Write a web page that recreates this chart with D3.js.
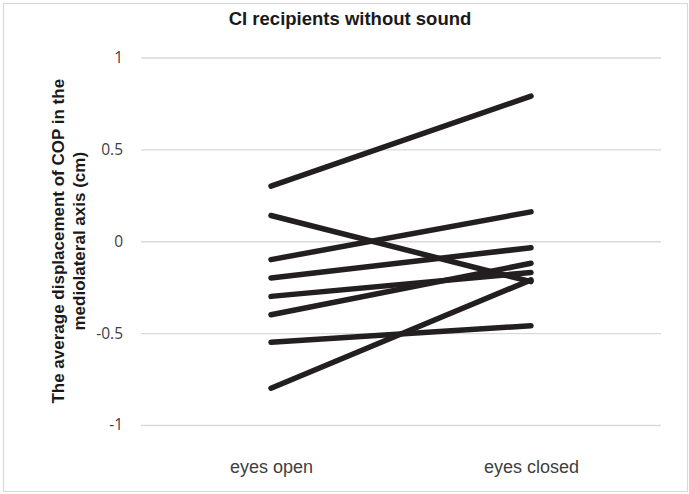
<!DOCTYPE html>
<html>
<head>
<meta charset="utf-8">
<script src="https://cdn.jsdelivr.net/npm/d3@7/dist/d3.min.js"></script>
<style>
  html, body { margin: 0; padding: 0; background: #fff; }
  svg { display: block; }
</style>
</head>
<body>
<svg id="chart" width="689" height="494"></svg>
<script>
// Conditions on the x axis
const conditions = ["eyes open", "eyes closed"];
// Average mediolateral COP displacement (cm) per participant
const eyesOpen   = [0.30, 0.14, -0.10, -0.20, -0.30, -0.40, -0.55, -0.80];
const eyesClosed = [0.79, -0.22, 0.16, -0.035, -0.17, -0.12, -0.46, -0.21];
// Value axis ticks
const yTicks = [-1, -0.5, 0, 0.5, 1];

const chartTitle = "CI recipients without sound";
const yTitleLines = ["The average displacement of COP in the", "mediolateral axis (cm)"];

const svg = d3.select("#chart");
const W = 689, H = 494;

// chart area border
svg.append("rect")
  .attr("x", 3.5).attr("y", 3.5)
  .attr("width", W - 5).attr("height", H - 6)
  .attr("fill", "#fff")
  .attr("stroke", "#d9d9d9")
  .attr("stroke-width", 1.2);

const plot = { left: 141, right: 661, top: 57.5, bottom: 425 };

const x = d3.scalePoint()
  .domain(conditions)
  .range([plot.left, plot.right])
  .padding(0.5);

const y = d3.scaleLinear()
  .domain([-1, 1])
  .range([plot.bottom, plot.top]);

// horizontal gridlines with value labels
const yAxis = d3.axisLeft(y)
  .tickValues(yTicks)
  .tickSize(-(plot.right - plot.left))
  .tickPadding(18)
  .tickFormat(d => String(d));

const gy = svg.append("g")
  .attr("transform", `translate(${plot.left},0)`)
  .call(yAxis);
gy.select(".domain").remove();
gy.selectAll(".tick line")
  .attr("stroke", "#d9d9d9")
  .attr("stroke-width", 1.3);
gy.selectAll(".tick text")
  .attr("fill", "#404040")
  .style("font-family", "'Open Sans', sans-serif")
  .style("font-size", "15.5px");

// category axis labels
const xAxis = d3.axisBottom(x).tickSize(0).tickPadding(0);
const gx = svg.append("g")
  .attr("transform", `translate(0,${plot.bottom})`)
  .call(xAxis);
gx.select(".domain").remove();
gx.selectAll(".tick text")
  .attr("dy", null)
  .attr("y", 48)
  .attr("fill", "#404040")
  .style("font-family", "'Liberation Sans', Arial, sans-serif")
  .style("font-size", "18px");

// one line per participant
const pairs = eyesOpen.map((v, i) => [
  { c: conditions[0], v: v },
  { c: conditions[1], v: eyesClosed[i] }
]);

const line = d3.line()
  .x(d => x(d.c))
  .y(d => y(d.v));

svg.append("g")
  .selectAll("path")
  .data(pairs)
  .join("path")
  .attr("d", line)
  .attr("fill", "none")
  .attr("stroke", "#231f20")
  .attr("stroke-width", 5.5)
  .attr("stroke-linecap", "round");

// title
svg.append("text")
  .attr("x", 350)
  .attr("y", 25)
  .attr("text-anchor", "middle")
  .attr("fill", "#1a1a1a")
  .style("font-family", "'Liberation Sans', Arial, sans-serif")
  .style("font-weight", "bold")
  .style("font-size", "18.5px")
  .text(chartTitle);

// value axis title, two lines rotated
const yt = svg.append("text")
  .attr("transform", `translate(0,${(plot.top + plot.bottom) / 2}) rotate(-90)`)
  .attr("text-anchor", "middle")
  .attr("fill", "#1a1a1a")
  .style("font-family", "'Liberation Sans', Arial, sans-serif")
  .style("font-weight", "bold")
  .style("font-size", "17px");
yt.selectAll("tspan")
  .data(yTitleLines)
  .join("tspan")
  .attr("x", 0)
  .attr("y", (d, i) => 64 + i * 21)
  .text(d => d);
</script>
</body>
</html>
